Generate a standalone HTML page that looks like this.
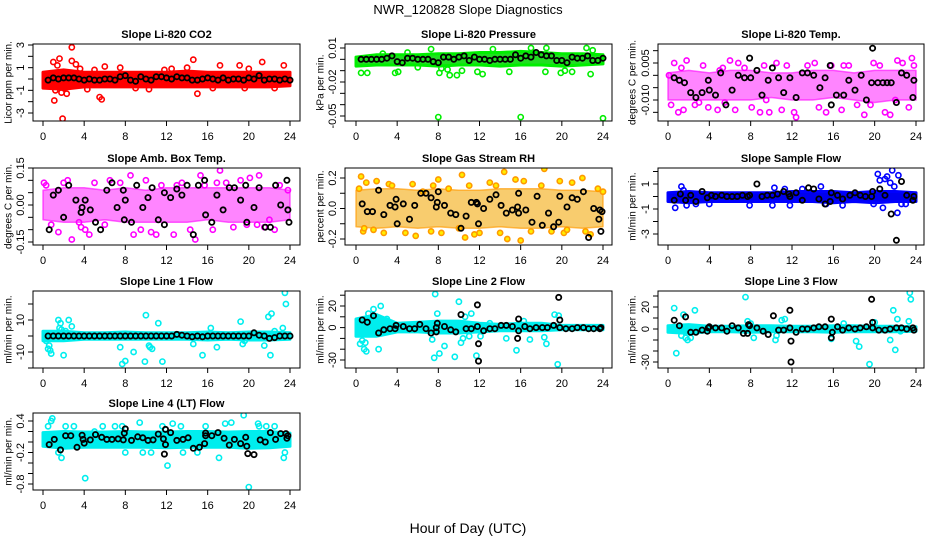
<!DOCTYPE html>
<html><head><meta charset="utf-8"><style>
html,body{margin:0;padding:0;background:#fff;}
svg{display:block;font-family:"Liberation Sans",Arial,sans-serif;}
</style></head><body>
<svg id="chart" width="936" height="540" viewBox="0 0 936 540">
<text x="468" y="14" text-anchor="middle" font-size="13">NWR_120828  Slope Diagnostics</text>
<text x="468" y="533" text-anchor="middle" font-size="14">Hour of Day (UTC)</text>
</svg>
<script>
// ---- shared data ----
const xTicks = [0,4,8,12,16,20,24];
const bandHours = [0,2,4,6,8,10,12,14,16,18,20,22,24];
const halfHours = [0.5,1,1.5,2,2.5,3,3.5,4,4.5,5,5.5,6,6.5,7,7.5,8,8.5,9,9.5,10,10.5,11,11.5,12,12.5,13,13.5,14,14.5,15,15.5,16,16.5,17,17.5,18,18.5,19,19.5,20,20.5,21,21.5,22,22.5,23,23.5,24];

// ---- P1 CO2 ----
const p1Ticks = [3,2,1,0,-1,-2,-3];
const p1Labels = ['3','','1','','-1','','-3'];
const p1BandLo = [-0.8,-0.9,-0.7,-0.7,-0.7,-0.7,-0.7,-0.7,-0.7,-0.7,-0.7,-0.7,-0.6];
const p1BandHi = [0.6,0.8,0.6,0.6,0.6,0.6,0.6,0.7,0.6,0.6,0.6,0.6,0.6];
const p1OutX = [1.0,1.2,1.4,1.6,1.8,1.9,2.0,2.3,2.8,2.8,3.2,1.1,5.5,5.7,5.0,6.0,4.3,10.3,14.6,15.0,17.2,19.1,19.6,21.3,23.4,3.6,7.5,11.8,14.0,20.0,9.0,16.5,12.5,22.5];
const p1OutY = [1.5,-1.0,1.2,1.8,-1.2,-3.5,-0.8,-1.3,2.8,1.6,1.3,-1.9,-1.6,-1.8,0.8,1.1,-0.9,-0.9,1.7,-1.3,1.2,1.2,-0.8,1.5,1.2,0.9,1.0,0.8,1.0,0.9,-0.8,-0.8,0.9,-0.8];
const p1BlackY = [-0.1,0.1,0.0,0.1,0.1,0.1,0.0,-0.1,0.0,-0.1,-0.1,0.0,0.0,-0.1,0.2,0.3,-0.1,-0.2,0.2,0.0,-0.1,0.2,0.2,0.1,0.0,0.2,0.1,0.1,-0.1,-0.1,0.0,0.1,0.0,-0.1,0.1,-0.1,0.0,0.0,-0.1,0.1,0.0,0.3,-0.1,0.0,0.0,-0.1,0.0,-0.1];

// ---- P2 Pressure ----
const p2Ticks = [0.01,0,-0.01,-0.02,-0.03,-0.04,-0.05];
const p2Labels = ['0.01','','','-0.02','','','-0.05'];
const p2BandLo = [-0.006,-0.005,-0.005,-0.005,-0.006,-0.005,-0.005,-0.006,-0.005,-0.005,-0.006,-0.005,-0.004];
const p2BandHi = [0.002,0.004,0.004,0.004,0.005,0.005,0.006,0.006,0.007,0.006,0.005,0.005,0.004];
const p2OutX = [0.5,1.1,3.8,4.1,7.3,8.1,8.3,8.9,9.1,9.8,10.3,11.8,12.3,13.3,14.9,17.0,18.4,18.5,19.9,20.3,21.0,22.4,22.8,23.0,8.0,16.0,24.0,2.6,5.0,6.0];
const p2OutY = [-0.012,-0.012,-0.012,-0.011,0.009,-0.012,-0.008,-0.009,-0.014,-0.014,-0.010,-0.011,-0.013,0.009,-0.011,0.010,-0.011,0.010,-0.012,-0.010,-0.011,0.010,-0.013,0.008,-0.051,-0.051,-0.052,0.005,0.006,-0.007];
const p2BlackY = [0,0,0,0,0,0.001,0.003,-0.002,-0.003,0.001,0.001,0,0,0,-0.002,-0.003,0.002,0.002,0,0.002,0.003,-0.001,0.002,0,0,-0.001,0,0,0,0,0.004,0.001,0.003,0.002,0.006,0.004,0.003,0.003,-0.001,-0.001,-0.003,0.002,0.001,0.001,0.003,-0.001,-0.001,0.001];

// ---- P3 Li-820 Temp ----
const p3Ticks = [0.010,0.005,0,-0.005,-0.010,-0.015];
const p3Labels = ['','0.005','','','-0.010',''];
const p3BandLo = [-0.010,-0.010,-0.010,-0.010,-0.010,-0.009,-0.010,-0.010,-0.009,-0.010,-0.011,-0.010,-0.010];
const p3BandHi = [0.001,0.002,0.001,0.002,0.002,0.001,0.001,0.002,0.002,0.001,0.002,0.002,0.002];
const p3OutX = [0.3,0.6,1.0,1.3,1.5,1.8,2.6,3.4,3.9,4.8,5.3,5.5,6.0,6.5,6.8,7.4,8.1,8.9,9.3,9.8,10.5,11.0,11.5,12.2,12.4,13.5,14.2,14.6,15.3,15.8,16.8,17.5,18.3,19.0,19.6,19.9,20.5,21.0,21.5,22.0,22.2,22.7,23.3,23.6,23.8,0.1,3.0,5.0,9.5,17.0];
const p3OutY = [-0.012,0.005,-0.015,0.003,-0.014,0.006,-0.012,0.004,-0.013,-0.014,0.003,-0.011,0.006,-0.014,0.005,0.003,-0.013,-0.015,0.004,-0.015,0.005,-0.014,0.004,-0.015,-0.017,0.004,0.005,-0.013,-0.015,0.004,-0.014,0.004,-0.012,-0.016,-0.012,0.005,0.004,-0.015,-0.016,-0.010,0.006,0.005,-0.013,0.007,0.004,0.000,-0.011,0.002,-0.010,0.004];
const p3BlackX = [0.6,1.1,1.6,2.2,2.7,3.3,3.9,4.0,4.6,5.1,5.6,6.2,6.8,7.4,7.9,8.0,8.6,9.1,9.7,10.1,10.7,11.2,11.8,12.4,13.0,13.5,14.1,14.7,15.2,15.7,15.8,16.3,17.0,17.5,18.1,18.7,19.2,19.7,19.8,20.3,20.8,21.2,21.6,22.1,22.6,23.1,23.7,23.8];
const p3BlackY = [-0.001,-0.002,-0.003,-0.007,-0.009,-0.007,-0.002,-0.006,-0.008,0.001,-0.012,-0.006,0,-0.001,0.007,-0.001,0.002,-0.008,-0.002,0.003,-0.001,-0.007,-0.001,-0.009,0.001,0.001,0,-0.005,-0.001,0.004,-0.012,-0.008,-0.008,-0.002,-0.006,0,-0.010,-0.003,0.011,-0.003,-0.003,-0.003,-0.003,-0.011,0.001,0,-0.009,-0.002];

// ---- P4 Amb Box Temp ----
const p4Ticks = [0.15,0.10,0.05,0,-0.05,-0.10,-0.15];
const p4Labels = ['0.15','','','0.00','','','-0.15'];
const p4BandLo = [-0.06,-0.07,-0.07,-0.06,-0.07,-0.07,-0.07,-0.07,-0.06,-0.07,-0.07,-0.07,-0.06];
const p4BandHi = [0.06,0.07,0.07,0.06,0.07,0.06,0.07,0.07,0.07,0.07,0.07,0.07,0.06];
const p4OutX = [0.1,0.3,1.5,2.4,2.8,3.5,4.1,4.5,5.0,6.0,7.5,8.5,8.8,9.5,10.0,11.0,11.5,12.7,13.5,14.3,14.8,15.3,15.7,16.5,17.2,17.8,18.5,19.2,20.1,20.8,21.0,21.5,22.5,23.0,23.8,0.8,2.0,3.7,6.5,10.5,13.0,16.9,19.8,22.0];
const p4OutY = [0.09,0.08,-0.11,0.10,-0.14,-0.07,-0.10,-0.12,0.09,-0.08,0.09,0.12,-0.12,-0.10,0.10,-0.12,0.08,-0.12,0.09,-0.10,-0.14,0.12,0.08,-0.10,0.14,0.09,-0.09,0.10,0.11,-0.08,0.12,-0.09,-0.10,0.08,0.06,-0.08,0.09,-0.09,0.10,-0.11,0.08,0.09,-0.08,-0.06];
const p4BlackX = [0.6,1.0,1.5,2.0,2.5,3.2,3.7,3.8,4.1,4.6,5.1,5.6,6.2,6.7,7.2,7.8,7.9,8.0,8.6,9.1,9.7,10.2,10.6,11.2,11.8,11.8,12.4,13.0,13.5,14.0,14.6,15.1,15.7,15.8,16.4,16.9,17.5,18.1,18.6,19.2,19.7,19.8,20.5,21.0,21.6,22.1,22.6,23.1,23.7,23.8,23.9];
const p4BlackY = [-0.1,0.04,0.06,-0.05,0.08,0.02,-0.03,-0.01,0.02,-0.02,-0.07,-0.1,0.06,0.09,-0.01,0.06,-0.06,0.02,-0.07,0.08,-0.01,0.03,0.07,-0.06,0.05,-0.08,0.03,0.065,0.04,0.08,-0.12,0.08,0.10,-0.04,-0.07,0.04,-0.02,0.07,0.07,0.02,0.08,-0.07,-0.01,0.07,-0.09,-0.09,0.08,0,0.10,-0.02,-0.07];

// ---- P5 Gas Stream RH ----
const p5Ticks = [0.2,0.1,0,-0.1,-0.2];
const p5Labels = ['0.2','','0.0','','-0.2'];
const p5BandLo = [-0.12,-0.13,-0.12,-0.13,-0.12,-0.13,-0.13,-0.12,-0.13,-0.13,-0.12,-0.13,-0.12];
const p5BandHi = [0.12,0.13,0.13,0.12,0.13,0.12,0.12,0.13,0.13,0.13,0.12,0.12,0.11];
const p5OutX = [0.3,0.5,0.7,1.0,1.7,2.0,2.7,3.2,4.8,5.5,5.8,6.5,7.3,7.5,8.0,8.3,9.0,10.0,10.3,10.6,11.0,12.0,13.6,14.0,14.4,14.7,15.5,16.0,16.3,17.0,18.0,18.3,19.0,19.8,20.2,21.0,22.0,22.3,22.8,23.5,24.0,0.8,3.5,11.5,13.0,20.5];
const p5OutY = [0.13,0.21,-0.15,0.17,-0.14,0.18,-0.16,0.16,-0.16,0.16,-0.18,0.11,-0.15,0.15,0.19,-0.16,0.13,-0.13,0.22,-0.19,0.15,-0.16,0.15,-0.16,0.24,-0.20,0.19,-0.21,0.18,-0.15,0.15,0.26,-0.15,0.18,-0.16,0.17,0.20,-0.15,-0.17,0.13,0.11,-0.13,0.15,-0.17,0.17,-0.14];
const p5BlackX = [0.6,1.1,1.6,2.2,2.7,3.3,3.8,3.9,4.0,4.6,5.2,5.7,6.3,6.8,7.3,7.8,7.9,8.0,8.6,9.2,9.7,10.2,10.7,11.2,11.7,11.8,11.9,12.4,13.0,13.6,14.1,14.6,15.2,15.7,15.8,15.8,16.5,17.1,17.6,18.1,18.7,19.2,19.7,19.8,20.5,21.0,21.5,22.1,22.6,23.1,23.6,23.7,23.8,23.9];
const p5BlackY = [0.03,-0.02,-0.02,0.12,-0.04,0.02,0.01,0.06,-0.1,0.03,-0.07,0.02,0.10,0.10,0.07,0.01,0.04,0.11,0.02,-0.03,-0.04,-0.13,-0.05,0.04,0.04,0.03,-0.10,0,0.06,0.09,0.02,-0.03,-0.01,0.01,-0.03,0.10,-0.01,-0.09,0.08,-0.11,-0.03,-0.12,-0.09,0.08,0.01,0.07,0.06,0.11,-0.19,0.0,-0.07,-0.01,-0.15,-0.02];

// ---- P6 Sample Flow ----
const p6Ticks = [2,1,0,-1,-2,-3];
const p6Labels = ['','1','','-1','','-3'];
const p6BandLo = [-0.4,-0.5,-0.4,-0.4,-0.4,-0.4,-0.4,-0.4,-0.5,-0.4,-0.5,-0.4,-0.4];
const p6BandHi = [0.3,0.4,0.3,0.3,0.3,0.3,0.4,0.4,0.4,0.3,0.4,0.4,0.3];
const p6OutX = [0.7,1.3,1.8,2.7,4.0,7.9,10.1,11.8,14.8,15.3,16.9,19.9,20.3,20.5,20.8,21.0,21.2,21.5,21.7,21.9,22.2,22.3,22.6,23.0,1.5,10.3,11.3,13.0];
const p6OutY = [-0.9,0.8,-0.7,-0.6,-0.6,-0.7,-0.7,-0.7,0.8,-0.6,-0.7,-0.6,1.8,1.3,-0.9,1.4,1.6,1.1,2.1,0.8,-1.3,1.7,-0.6,-0.6,0.5,0.7,0.6,0.6];
const p6BlackX = [0.6,1.2,1.7,2.2,2.7,3.3,3.8,4.2,4.6,5.2,5.7,6.2,6.7,7.2,7.7,7.9,8.6,9.1,9.6,10.1,10.6,11.2,11.7,11.8,12.4,13.0,13.6,14.1,14.6,15.2,15.7,15.8,16.4,16.9,17.6,18.1,18.6,19.1,19.7,19.8,20.5,21.0,21.6,22.1,22.6,23.1,23.7,23.8];
const p6BlackY = [-0.3,0.2,-0.3,0.1,-0.4,0.4,-0.1,0.1,0,0.1,0,0,0,0.1,0,0.1,1.0,0,0.1,0.1,0.2,0.4,0.2,0,0.3,-0.3,0.7,0.6,-0.2,-0.6,-0.4,0.3,0.1,-0.2,0.1,0.3,0.1,0,0,0.4,0.6,0.1,-1.4,-3.5,1.2,0.1,-0.3,0];

// ---- P7 Line 1 Flow ----
const p7Ticks = [20,10,0,-10,-20];
const p7Labels = ['','10','','-10',''];
const p7BandLo = [-3,-3,-2,-2,-2,-2,-2,-2,-2.5,-2,-2.5,-2.5,-2];
const p7BandHi = [3,3,2,2,2.5,2,2,2,2.5,2,2.5,2.5,2];
const p7OutX = [0.3,0.5,0.6,0.7,0.8,1.5,1.6,1.7,1.8,2.0,2.2,2.5,2.8,7.5,7.7,8.0,8.8,9.9,10.0,10.3,10.4,10.6,11.2,11.6,14.6,15.5,16.3,16.9,19.2,19.4,19.6,21.5,21.9,22.1,22.2,22.5,23.3,23.5,23.6];
const p7OutY = [-3,-8,-6,-9,-11,10,5,8,4,-12,3,10,6,-7,-17.5,-15.6,-10,-16,13,-6,-7,-8,8,-16,-5,-12,5,-7,9,-5,-3,-6,12,-12,14,3,5,27,20];
const p7BlackY = [0,0,0,0,0,0,0,0,0,0,0,0,0,0,0,0,0,0,0,0,0,0,0,0,0,1,0.5,0,-0.5,0,-0.5,0,0,0,0,0,0,0,0,0,2,0.5,0,-1.5,-1,0,0,0];

// ---- P8 Line 2 Flow ----
const p8Ticks = [30,20,10,0,-10,-20,-30];
const p8Labels = ['','20','','0','','','-30'];
const p8BandLo = [-8,-8,-4,-4,-5,-5,-4,-3,-3,-3,-2,-2,-2];
const p8BandHi = [8,12,4,5,6,6,4,3,4,4,2,2,2];
const p8OutX = [0.4,0.6,0.8,1.0,1.2,1.7,2.2,2.4,2.6,3.0,7.6,7.4,7.7,7.9,8.1,8.6,9.6,10.0,10.2,10.4,10.6,11.0,11.2,11.7,14.6,15.6,16.3,16.9,18.3,18.5,19.3,19.6,19.7,0.9,1.3,12.1,13.0];
const p8OutY = [-15,-12,-20,-22,13,17,-20,20,6,8,-28,-11,31,13,-24,-17,-27,24,-14,-10,10,-8,13,-26,-10,-21,6,-11,-9,-15,12,-34,11,-14,-5,-8,4];
const p8BlackX = [0.6,1.1,1.7,2.2,2.7,3.3,3.8,3.9,4.6,5.2,5.7,6.2,6.8,7.3,7.8,7.9,7.8,8.6,9.2,9.7,10.2,10.7,11.2,11.8,11.9,11.9,11.8,12.4,13.0,13.5,14.1,14.6,15.2,15.8,15.7,15.8,16.4,16.9,17.5,18.1,18.6,19.2,19.7,19.8,19.8,20.4,21.0,21.5,22.1,22.6,23.1,23.7,23.8];
const p8BlackY = [7,5,11,-5,-2,-1,-1,2,1,-1,-1,3,-1,-5,0,4,-4,1,-2,-4,12,-1,-1,21,-15,-31,1,-3,-1,-1,2,2,1,8,-10,-3,1,-1,0,0,0,2,28,7,0,-1,-1,0,0,-1,-1,-1,0];

// ---- P9 Line 3 Flow ----
const p9Ticks = [30,20,10,0,-10,-20,-30];
const p9Labels = ['','20','','0','','','-30'];
const p9BandLo = [-3,-4,-2.5,-2.5,-3,-2.5,-2.5,-2.5,-3,-2.5,-2.5,-2.5,-2];
const p9BandHi = [3,4,2.5,2.5,3,3,2.5,2.5,3,3,2.5,2.5,2];
const p9OutX = [0.6,0.8,1.3,1.5,1.7,1.9,2.2,2.6,7.5,7.7,8.3,10.4,10.5,11.0,15.8,18.2,18.5,19.5,21.5,21.8,22.0,22.2,23.3,23.4,23.5,8.0,11.3,17.0,20.0,22.5];
const p9OutY = [19,-22,-6,13,-8,-10,-8,17,29,7,-8,-10,-6,8,-9,-11,-16,-32,-10,17,-19,9,7,33,27,5,9,5,6,-2];
const p9BlackX = [0.6,1.1,1.7,2.2,2.7,3.3,3.8,3.9,4.0,4.6,5.2,5.7,6.2,6.8,7.3,7.7,7.8,7.9,8.6,9.2,9.7,10.2,10.7,11.2,11.8,11.9,11.9,11.8,12.4,13.0,13.5,14.1,14.6,15.2,15.8,15.8,15.9,16.4,16.9,17.5,18.1,18.6,19.2,19.7,19.8,19.8,20.4,21.0,21.5,22.1,22.6,23.1,23.7,23.8];
const p9BlackY = [8,3,11,-3,-3,-1,-2,1,2,1,1,-2,3,1,-4,-4,4,3,1,-2,-5,12,-1,-1,17,-11,-30,1,-3,0,0,1,2,2,9,-8,-3,2,-1,1,0,1,2,27,6,1,-1,-1,0,1,1,0,1,-1];

// ---- P10 Line 4 (LT) Flow ----
const p10Ticks = [0.4,0.2,0,-0.2,-0.4,-0.6,-0.8];
const p10Labels = ['0.4','','','-0.2','','','-0.8'];
const p10BandLo = [-0.08,-0.12,-0.1,-0.1,-0.1,-0.1,-0.11,-0.1,-0.1,-0.1,-0.12,-0.11,-0.08];
const p10BandHi = [0.18,0.2,0.19,0.19,0.2,0.19,0.19,0.2,0.2,0.19,0.2,0.2,0.17];
const p10OutX = [0.5,0.8,0.9,1.5,1.8,2.2,4.1,5.0,5.8,7.0,7.7,8.0,9.4,9.7,11.6,12.1,12.6,13.4,13.6,15.8,17.1,17.7,18.3,19.5,20.0,20.9,21.7,22.5,23.4,23.5,3.0,10.5,15.0,21.0];
const p10OutY = [0.3,0.4,0.45,-0.2,-0.3,0.3,-0.69,0.2,0.3,0.3,0.3,-0.2,0.37,-0.2,0.3,-0.45,0.35,0.3,-0.2,0.3,-0.3,0.35,0.37,0.51,-0.86,0.35,0.3,0.3,-0.3,-0.2,0.3,-0.2,-0.2,0.3];
const p10BlackX = [0.6,1.1,1.7,2.2,2.7,3.3,3.8,3.9,4.0,4.6,5.1,5.7,6.2,6.7,7.3,7.8,7.9,8.0,8.6,9.2,9.7,10.2,10.7,11.2,11.7,11.8,11.9,11.9,12.4,13.0,13.6,14.1,14.6,15.2,15.7,15.8,15.8,16.4,17.0,17.6,18.1,18.6,19.2,19.7,19.8,19.9,20.5,21.1,21.6,22.1,22.6,23.1,23.6,23.8,23.7];
const p10BlackY = [-0.05,0.05,-0.15,0.12,0.12,-0.1,0.13,0.05,-0.02,0.04,0.14,0.09,0.05,0.05,0.06,0.04,0.17,0.25,0.03,0.1,0.08,0.03,0.04,0.15,0.06,-0.23,0.24,-0.05,0.18,0.03,0.05,0.08,-0.12,-0.1,-0.03,0.17,0.12,0.12,0.18,0.07,-0.06,0.05,-0.03,0.09,-0.08,-0.22,-0.24,0.04,0.0,0.18,0.05,0.16,0.16,0.12,0.07];

// ---- layout (geometry only) ----
const NS = 'http://www.w3.org/2000/svg';
const svg = document.getElementById('chart');
const cols = [{L:33,R:300,x0:43,x24:290,yt:20,yl:8},{L:345,R:612,x0:356,x24:603,yt:332,yl:320},{L:658,R:924,x0:668,x24:916,yt:645,yl:632}];
const rowTops = [44,168,291,413];
const H = 77;

const panels = [
 {name:'co2',title:'Slope Li-820 CO2',ylab:'Licor ppm per min.',col:0,row:0,color:'#ff0000',band:'#ff0000',ticks:p1Ticks,labels:p1Labels,lo:p1BandLo,hi:p1BandHi,ox:p1OutX,oy:p1OutY,bx:halfHours,by:p1BlackY,v1:3,p1:45,v2:-3,p2:113},
 {name:'pressure',title:'Slope Li-820 Pressure',ylab:'kPa per min.',col:1,row:0,color:'#00ee00',band:'#22dd22',ticks:p2Ticks,labels:p2Labels,lo:p2BandLo,hi:p2BandHi,ox:p2OutX,oy:p2OutY,bx:halfHours,by:p2BlackY,v1:0.01,p1:48,v2:-0.05,p2:116},
 {name:'temp',title:'Slope Li-820 Temp.',ylab:'degrees C per min.',col:2,row:0,color:'#ff00ff',band:'#ff33ff',op:0.6,sw:1.5,ticks:p3Ticks,labels:p3Labels,lo:p3BandLo,hi:p3BandHi,ox:p3OutX,oy:p3OutY,bx:p3BlackX,by:p3BlackY,v1:0.005,p1:63,v2:-0.010,p2:100},
 {name:'amb-box-temp',title:'Slope Amb. Box Temp.',ylab:'degrees C per min.',col:0,row:1,color:'#ff00ff',band:'#ff33ff',op:0.6,sw:1.5,ticks:p4Ticks,labels:p4Labels,lo:p4BandLo,hi:p4BandHi,ox:p4OutX,oy:p4OutY,bx:p4BlackX,by:p4BlackY,v1:0.15,p1:168,v2:-0.15,p2:242},
 {name:'gas-stream-rh',title:'Slope Gas Stream RH',ylab:'percent per min.',col:1,row:1,color:'#ff9900',band:'#f5b020',op:0.65,sw:1.5,ticks:p5Ticks,labels:p5Labels,lo:p5BandLo,hi:p5BandHi,ox:p5OutX,oy:p5OutY,bx:p5BlackX,by:p5BlackY,v1:0.2,p1:178,v2:-0.2,p2:239},
 {name:'sample-flow',title:'Slope Sample Flow',ylab:'ml/min per min.',col:2,row:1,color:'#0000ff',band:'#0000ee',ticks:p6Ticks,labels:p6Labels,lo:p6BandLo,hi:p6BandHi,ox:p6OutX,oy:p6OutY,bx:p6BlackX,by:p6BlackY,v1:1,p1:184,v2:-3,p2:234},
 {name:'line1-flow',title:'Slope Line 1 Flow',ylab:'ml/min per min.',col:0,row:2,color:'#00eeee',band:'#00eeee',ticks:p7Ticks,labels:p7Labels,lo:p7BandLo,hi:p7BandHi,ox:p7OutX,oy:p7OutY,bx:halfHours,by:p7BlackY,v1:10,p1:320,v2:-10,p2:352},
 {name:'line2-flow',title:'Slope Line 2 Flow',ylab:'ml/min per min.',col:1,row:2,color:'#00eeee',band:'#00eeee',ticks:p8Ticks,labels:p8Labels,lo:p8BandLo,hi:p8BandHi,ox:p8OutX,oy:p8OutY,bx:p8BlackX,by:p8BlackY,v1:20,p1:306,v2:-30,p2:360},
 {name:'line3-flow',title:'Slope Line 3 Flow',ylab:'ml/min per min.',col:2,row:2,color:'#00eeee',band:'#00eeee',ticks:p9Ticks,labels:p9Labels,lo:p9BandLo,hi:p9BandHi,ox:p9OutX,oy:p9OutY,bx:p9BlackX,by:p9BlackY,v1:20,p1:307,v2:-30,p2:362},
 {name:'line4-flow',title:'Slope Line 4 (LT) Flow',ylab:'ml/min per min.',col:0,row:3,color:'#00eeee',band:'#00eeee',ticks:p10Ticks,labels:p10Labels,lo:p10BandLo,hi:p10BandHi,ox:p10OutX,oy:p10OutY,bx:p10BlackX,by:p10BlackY,v1:0.4,p1:421,v2:-0.8,p2:484}
];

function mk(tag, attrs, parent){
  const e = document.createElementNS(NS, tag);
  for (const k in attrs) e.setAttribute(k, attrs[k]);
  (parent||svg).appendChild(e);
  return e;
}

panels.forEach(function(p){
  const c = cols[p.col];
  const top = rowTops[p.row], bot = top + H;
  const xs = function(h){ return c.x0 + (c.x24 - c.x0) * h / 24; };
  const ys = function(v){ return p.p1 + (v - p.v1) * (p.p2 - p.p1) / (p.v2 - p.v1); };
  const g = mk('g', {});
  
  
  const clipId = 'clip-' + p.name;
  const cp = mk('clipPath', {id: clipId}, g);
  mk('rect', {x:c.L, y:top, width:c.R-c.L, height:H}, cp);
  const plot = mk('g', {'clip-path':'url(#'+clipId+')'}, g);
  
  

  let pts = [];
  for (let i=0;i<bandHours.length;i++) pts.push(xs(bandHours[i]).toFixed(1)+','+ys(p.hi[i]).toFixed(1));
  for (let i=bandHours.length-1;i>=0;i--) pts.push(xs(bandHours[i]).toFixed(1)+','+ys(p.lo[i]).toFixed(1));
  const band = mk('polygon', {points:pts.join(' '), fill:p.band, 'fill-opacity':p.op||1, stroke:p.color, 'stroke-width':p.sw||3, 'stroke-linejoin':'round', 'stroke-opacity':p.op||1}, plot);
  
  

  for (let i=0;i<p.ox.length;i++){
    const pt = mk('circle', {cx:xs(p.ox[i]).toFixed(1), cy:ys(p.oy[i]).toFixed(1), r:2.6, fill: p.name==='gas-stream-rh' ? '#ffee00':'none', stroke:p.color, 'stroke-width':1.6}, plot);
    
    
  }
  const n = Math.min(p.bx.length, p.by.length);
  for (let i=0;i<n;i++){
    const pt = mk('circle', {cx:xs(p.bx[i]).toFixed(1), cy:ys(p.by[i]).toFixed(1), r:2.6, fill:'none', stroke:'#000', 'stroke-width':1.8}, plot);
    
    
  }

  const box = mk('rect', {x:c.L, y:top, width:c.R-c.L, height:H, fill:'none', stroke:'#000', 'stroke-width':1}, g);
  
  

  xTicks.forEach(function(t){
    const x = xs(t);
    mk('line', {x1:x, y1:bot, x2:x, y2:bot+5, stroke:'#000'}, g);
    const lbl = mk('text', {x:x, y:bot+19, 'text-anchor':'middle', 'font-size':11}, g);
    lbl.textContent = String(t);
    
    
  });
  p.ticks.forEach(function(t, i){
    const y = ys(t);
    mk('line', {x1:c.L-5, y1:y, x2:c.L, y2:y, stroke:'#000'}, g);
    if (p.labels[i]){
      const lbl = mk('text', {x:c.yt, y:y, 'text-anchor':'middle', 'font-size':11, transform:'rotate(-90 '+c.yt+' '+y+')', dy:'0.35em'}, g);
      lbl.textContent = p.labels[i];
      
      
    }
  });
  const tt = mk('text', {x:(c.L+c.R)/2, y:top-6, 'text-anchor':'middle', 'font-size':11, 'font-weight':'bold'}, g);
  tt.textContent = p.title;
  
  
  const yc = top + H/2;
  const yl = mk('text', {x:c.yl, y:yc, 'text-anchor':'middle', 'font-size':10, dy:'0.35em', transform:'rotate(-90 '+c.yl+' '+yc+')'}, g);
  yl.textContent = p.ylab;
  
  
});
</script>
</body></html>
